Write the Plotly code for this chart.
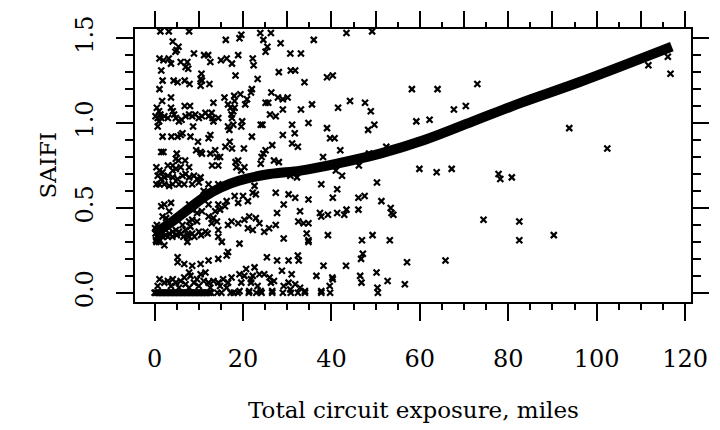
import plotly.graph_objects as go

# ---------------- data ----------------
# points with SAIFI = 0 (bar along the bottom)
zero_x = [0, 0.3, 0.6, 0.9, 1.2, 1.5, 1.8, 2.1, 2.4, 2.7, 3.0, 3.3, 3.6, 3.9, 4.2, 4.5,
          4.8, 5.1, 5.4, 5.7, 6.0, 6.3, 6.6, 6.9, 7.2, 7.5, 7.8, 8.1, 8.4, 8.7, 9.0, 9.3,
          9.6, 9.9, 10.2, 10.5, 10.8, 11.1, 11.4, 11.7, 12.0, 12.4, 12.8, 14.2, 15.1,
          17.2, 17.9, 18.8, 21.3, 23.0, 24.2, 26.6, 29.0, 30.8, 32.4, 34.0, 37.7, 39.7, 50.5]
zero_y = [0.0] * len(zero_x)

# low SAIFI points (0 < y < 0.3)
low_x = [0.4, 2.2, 7.4, 15.2, 16.6, 16.3, 14.4, 5.2, 5.2, 6.7, 8.5, 10.4, 12.2, 7.8, 8.1,
         6.7, 10.4, 11.5, 1.1, 2.2, 3.0, 4.1, 4.8, 5.9, 7.0, 8.9, 9.6, 11.1, 12.2, 13.3,
         14.4, 15.5, 16.6, 17.4, 0.7, 3.7, 5.5, 7.8, 10.0, 12.6, 14.8, 16.3,
         19.2, 34.8, 25.4, 27.7, 30.3, 32.4, 32.6, 38.2, 19.2, 20.3, 20.7, 22.6, 22.2,
         23.7, 24.8, 26.0, 28.8, 31.0, 36.6, 40.3, 19.6, 21.8, 21.8, 23.3, 24.0, 21.4,
         19.2, 26.6, 26.3, 27.0, 29.2, 30.3, 31.8, 30.7, 32.9, 34.0, 37.7, 39.6,
         47.1, 46.7, 57.1, 65.8, 43.3, 40.2, 46.5, 50.2, 52.7, 46.8, 50.4, 56.6]
low_y = [0.30, 0.28, 0.30, 0.30, 0.24, 0.22, 0.20, 0.21, 0.18, 0.17, 0.16, 0.17, 0.19,
         0.12, 0.10, 0.09, 0.11, 0.12, 0.08, 0.06, 0.07, 0.08, 0.06, 0.07, 0.05, 0.06,
         0.08, 0.07, 0.06, 0.07, 0.06, 0.08, 0.06, 0.09, 0.04, 0.04, 0.03, 0.03, 0.04,
         0.03, 0.04, 0.03,
         0.29, 0.30, 0.21, 0.19, 0.19, 0.22, 0.19, 0.16, 0.11, 0.10, 0.14, 0.15, 0.10,
         0.11, 0.11, 0.09, 0.13, 0.11, 0.10, 0.08, 0.06, 0.06, 0.08, 0.04, 0.01, 0.01,
         0.01, 0.01, 0.06, 0.07, 0.04, 0.06, 0.05, 0.02, 0.03, 0.01, 0.01, 0.04,
         0.23, 0.20, 0.18, 0.19, 0.16, 0.09, 0.10, 0.12, 0.07, 0.06, 0.03, 0.05]

# middle SAIFI points (0.3 <= y < 0.75)
mid_x = [0.2, 0.5, 0.8, 1.2, 0.3, 1.0, 2.5, 3.0, 4.0, 5.0, 6.0, 6.5, 7.5, 9.0, 10.5, 12.0,
         0.1, 0.5, 1.5, 1.1, 1.8,
         0.4, 1.1, 1.8, 4.1, 4.8, 5.9, 7.8, 0.7, 1.5, 2.2, 3.0, 4.1, 5.2, 6.3, 7.0, 7.8,
         8.9, 9.6, 10.4, 0.4, 1.1, 2.2, 3.3, 4.1, 5.5, 6.7, 8.5, 10.0, 12.2, 14.4, 18.5,
         19.6, 20.3, 30.7, 32.2, 37.7,
         11.1, 11.5, 12.2, 18.1, 20.0, 21.1, 18.9, 22.6, 22.2, 22.9, 27.4, 30.3, 31.8,
         34.8, 40.3, 2.2, 3.7, 1.5, 1.8, 3.3, 2.6, 7.8, 8.5, 9.6, 10.7, 12.2, 14.4, 16.3,
         15.9, 13.7, 14.8, 12.2, 13.3, 14.1, 12.9, 9.6, 8.5, 7.8, 8.1, 6.3, 7.0, 5.5, 4.8,
         4.1, 3.3, 7.8, 8.5, 10.0, 11.5, 14.4, 16.6, 17.4, 18.9, 20.3, 21.4, 22.9, 23.7,
         21.1, 22.2, 24.8, 25.9, 27.4, 27.7, 29.2, 32.9, 32.5, 33.7, 34.8, 37.4, 37.7,
         39.2, 34.4, 34.8, 39.2, 29.2, 14.4, 1.1, 1.8,
         41.0, 42.4, 59.9, 63.8, 67.2, 77.8, 78.2, 80.8, 50.3, 41.3, 46.1, 47.5, 51.3,
         41.3, 42.9, 43.4, 46.1, 53.4, 53.6, 54.0, 74.4, 82.5, 49.3, 46.9, 53.2, 82.5,
         90.3]
mid_y = [0.35, 0.33, 0.34, 0.36, 0.31, 0.30, 0.34, 0.33, 0.33, 0.34, 0.35, 0.33, 0.34,
         0.33, 0.34, 0.35, 0.38, 0.40, 0.38, 0.31, 0.33,
         0.74, 0.72, 0.71, 0.72, 0.73, 0.74, 0.74, 0.69, 0.67, 0.68, 0.69, 0.68, 0.67,
         0.69, 0.70, 0.68, 0.69, 0.67, 0.68, 0.64, 0.64, 0.64, 0.63, 0.64, 0.64, 0.64,
         0.64, 0.65, 0.64, 0.64, 0.74, 0.72, 0.74, 0.69, 0.68, 0.64,
         0.60, 0.59, 0.58, 0.57, 0.57, 0.54, 0.53, 0.63, 0.59, 0.58, 0.59, 0.58, 0.56,
         0.55, 0.56, 0.52, 0.53, 0.51, 0.45, 0.48, 0.44, 0.52, 0.49, 0.47, 0.48, 0.52,
         0.52, 0.54, 0.51, 0.48, 0.49, 0.45, 0.44, 0.42, 0.41, 0.42, 0.43, 0.42, 0.39,
         0.40, 0.37, 0.36, 0.37, 0.36, 0.35, 0.33, 0.35, 0.36, 0.36, 0.37, 0.40, 0.42,
         0.41, 0.43, 0.45, 0.44, 0.41, 0.38, 0.37, 0.36, 0.38, 0.40, 0.47, 0.52, 0.48,
         0.42, 0.41, 0.41, 0.47, 0.45, 0.46, 0.35, 0.31, 0.34, 0.32, 0.33, 0.31, 0.33,
         0.72, 0.69, 0.73, 0.71, 0.73, 0.70, 0.67, 0.68, 0.65, 0.61, 0.56, 0.57, 0.54,
         0.47, 0.46, 0.49, 0.49, 0.50, 0.47, 0.46, 0.43, 0.42, 0.34, 0.31, 0.31, 0.31,
         0.34]

# high SAIFI points (y >= 0.75)
high_x = [1.3, 3.2, 7.8, 19.6, 19.2, 23.9, 26.3, 4.1, 5.4, 5.0, 4.7, 16.1, 24.6, 28.5,
          36.0, 25.5, 25.1, 8.9, 1.1, 2.0, 3.2, 3.7, 5.9, 7.4, 7.0, 7.6, 11.2, 12.1, 12.6,
          15.0, 16.3, 17.5, 18.9, 22.2, 22.4, 30.7, 33.1, 1.5, 28.1, 30.8, 31.8, 18.3,
          10.6, 10.4, 10.7, 1.8, 4.3, 5.2, 6.8, 7.9, 12.4, 10.4, 1.1, 23.3, 33.9, 39.0,
          40.3, 22.0, 21.8, 26.4, 19.4, 18.0, 15.8, 20.9, 18.1, 27.9, 29.0, 30.1, 3.7,
          1.7, 13.3, 6.8, 8.0, 16.6, 17.2, 18.1, 17.8, 20.5, 25.1, 25.7, 29.0, 33.1, 35.6,
          0.5, 1.0, 1.3, 0.2, 0.7, 1.5, 2.2, 3.0, 3.7, 4.1, 4.4, 1.0, 4.8, 5.5, 6.1, 7.0,
          7.8, 8.5, 9.2, 10.0, 10.7, 11.5, 12.2, 12.9, 13.1, 14.4, 13.3, 17.4, 17.5, 26.1,
          27.4, 19.8,
          0.7, 16.6, 17.8, 19.6, 24.0, 24.4, 31.1, 34.8, 39.0, 8.7, 12.6, 6.3, 5.9, 1.8,
          3.8, 5.2, 8.1, 16.9, 22.0, 29.0, 31.7, 9.8, 12.2, 17.0, 39.7, 40.7, 9.4, 10.4,
          10.7, 1.5, 2.0, 5.0, 4.8, 5.4, 6.9, 12.6, 13.7, 14.1, 14.8, 16.0, 17.5, 20.2,
          26.6, 25.1, 24.6, 24.2, 31.1, 32.4, 38.1, 18.3, 18.9, 27.0, 28.1, 24.0, 4.1,
          3.0, 13.0, 14.4,
          43.4, 49.2, 58.2, 64.0, 73.0, 44.2, 47.6, 41.5, 48.9, 67.7, 70.4, 49.7, 48.3,
          59.2, 62.2, 42.0, 52.4, 48.5, 46.2,
          116.1, 111.7, 116.7, 93.8, 102.4]
high_y = [1.54, 1.54, 1.54, 1.52, 1.50, 1.53, 1.53, 1.48, 1.45, 1.43, 1.42, 1.49, 1.49,
          1.47, 1.49, 1.45, 1.42, 1.41, 1.38, 1.37, 1.38, 1.35, 1.36, 1.36, 1.33, 1.32,
          1.40, 1.40, 1.36, 1.37, 1.38, 1.35, 1.40, 1.38, 1.34, 1.41, 1.41, 1.31, 1.30,
          1.31, 1.31, 1.28, 1.29, 1.26, 1.25, 1.25, 1.25, 1.24, 1.25, 1.23, 1.23, 1.22,
          1.20, 1.26, 1.24, 1.27, 1.28, 1.20, 1.18, 1.18, 1.17, 1.16, 1.15, 1.14, 1.13,
          1.15, 1.14, 1.15, 1.15, 1.13, 1.12, 1.10, 1.10, 1.11, 1.09, 1.09, 1.07, 1.11,
          1.12, 1.12, 1.08, 1.08, 1.11,
          1.09, 1.07, 1.05, 1.04, 1.03, 1.03, 1.04, 1.03, 1.09, 1.07, 1.05, 1.01, 1.03,
          1.01, 1.02, 1.04, 1.05, 1.04, 1.05, 1.03, 1.04, 1.06, 1.04, 1.06, 1.03, 1.03,
          1.01, 1.05, 1.03, 1.05, 1.04, 1.01,
          0.98, 0.98, 0.99, 0.98, 0.99, 0.99, 0.99, 1.00, 0.97, 0.98, 0.93, 0.94, 0.93,
          0.92, 0.92, 0.92, 0.92, 0.96, 0.92, 0.93, 0.94, 0.89, 0.91, 0.89, 0.91, 0.91,
          0.84, 0.83, 0.82, 0.83, 0.83, 0.82, 0.79, 0.78, 0.78, 0.82, 0.84, 0.80, 0.80,
          0.86, 0.85, 0.85, 0.87, 0.84, 0.82, 0.80, 0.88, 0.86, 0.80, 0.77, 0.78, 0.78,
          0.77, 0.76, 0.75, 0.75, 0.75, 0.75,
          1.53, 1.54, 1.20, 1.20, 1.23, 1.13, 1.12, 1.09, 1.07, 1.08, 1.10, 0.99, 0.96,
          1.01, 1.02, 0.84, 0.86, 0.82, 0.75,
          1.39, 1.34, 1.29, 0.97, 0.85]

# smooth fit line
fit_x = [0, 4, 8, 11.5, 15, 19, 26, 33, 41, 51, 61, 72, 83, 96, 117]
fit_y = [0.35, 0.42, 0.50, 0.57, 0.62, 0.66, 0.70, 0.72, 0.76, 0.82, 0.90, 1.01, 1.12, 1.24, 1.45]

x_ticks = [0, 20, 40, 60, 80, 100, 120]
y_ticks = [0.0, 0.5, 1.0, 1.5]
y_ticktext = ["0.0", "0.5", "1.0", "1.5"]

# ---------------- figure ----------------
pts_x = zero_x + low_x + mid_x + high_x
pts_y = zero_y + low_y + mid_y + high_y

FONT = "DejaVu Serif"
XR = [-4.44, 121.34]
YR = [-0.054, 1.554]

fig = go.Figure()
fig.add_trace(go.Scatter(
    x=pts_x, y=pts_y, mode="markers",
    marker=dict(symbol="x-thin", size=6, color="black",
                line=dict(width=2.2, color="black")),
    showlegend=False, hoverinfo="skip"))
fig.add_trace(go.Scatter(
    x=fit_x, y=fit_y, mode="lines",
    line=dict(shape="spline", width=10, color="black"),
    showlegend=False, hoverinfo="skip"))
# helper trace so the top / right axes are drawn
fig.add_trace(go.Scatter(x=[None], y=[None], xaxis="x2", yaxis="y2",
                         showlegend=False, hoverinfo="skip"))

tickfont = dict(family=FONT, size=24, color="black")
fig.update_layout(
    width=720, height=430,
    margin=dict(l=135, r=18, t=25, b=128),
    paper_bgcolor="white", plot_bgcolor="white",
    xaxis=dict(range=XR, tickvals=x_ticks, ticks="outside", ticklen=17, tickwidth=2,
               tickcolor="black", showline=True, linewidth=2, linecolor="black",
               mirror=True, showgrid=False, zeroline=False, tickfont=tickfont,
               ticklabelstandoff=17,
               minor=dict(dtick=5, tick0=0, ticks="outside", ticklen=6, tickwidth=2,
                          tickcolor="black", showgrid=False)),
    yaxis=dict(range=YR, tickvals=y_ticks, ticktext=y_ticktext, ticks="outside",
               ticklen=17, tickwidth=2, tickcolor="black", showline=True, linewidth=2,
               linecolor="black", mirror=True, showgrid=False, zeroline=False,
               tickfont=tickfont, tickangle=-90, ticklabelstandoff=13,
               minor=dict(dtick=0.1, tick0=0, ticks="outside", ticklen=8, tickwidth=2,
                          tickcolor="black", showgrid=False)),
    xaxis2=dict(range=XR, overlaying="x", side="top", anchor="y2", dtick=10, tick0=0,
                ticks="outside", ticklen=17, tickwidth=2, tickcolor="black",
                showticklabels=False, showgrid=False, zeroline=False, showline=False,
                minor=dict(dtick=5, tick0=0, ticks="outside", ticklen=6, tickwidth=2,
                           tickcolor="black", showgrid=False)),
    yaxis2=dict(range=YR, overlaying="y", side="right", anchor="x2", dtick=0.5, tick0=0,
                ticks="outside", ticklen=17, tickwidth=2, tickcolor="black",
                showticklabels=False, showgrid=False, zeroline=False, showline=False,
                minor=dict(dtick=0.1, tick0=0, ticks="outside", ticklen=9, tickwidth=2,
                           tickcolor="black", showgrid=False)),
    annotations=[
        dict(text="Total circuit exposure, miles", xref="paper", yref="paper",
             x=0.5, y=0, xanchor="center", yanchor="middle", yshift=-108,
             showarrow=False, font=dict(family=FONT, size=23, color="black")),
        dict(text="SAIFI", xref="paper", yref="paper", x=0, y=0.5,
             xanchor="center", yanchor="middle", xshift=-88, textangle=-90,
             showarrow=False, font=dict(family=FONT, size=23, color="black")),
    ],
)

fig.write_html("out.html")
